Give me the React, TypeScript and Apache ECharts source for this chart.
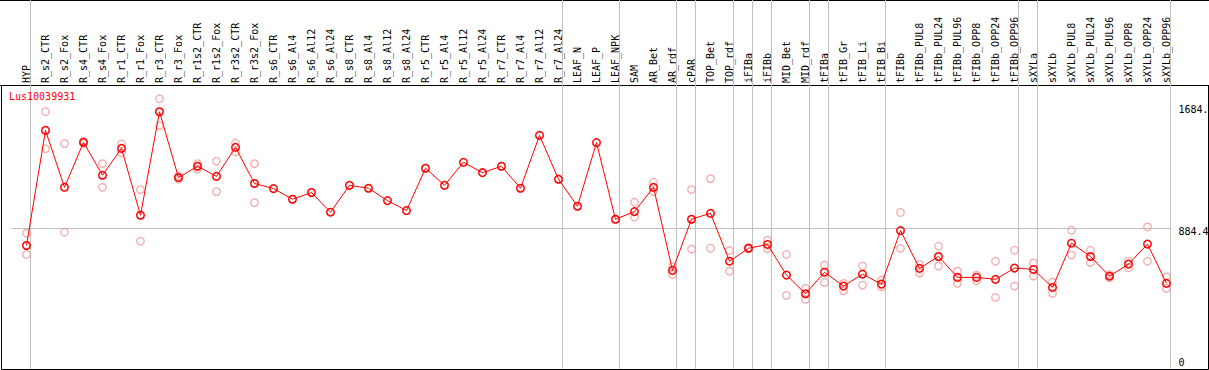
import React, { useEffect, useRef } from 'react';
import * as echarts from 'echarts';

const geneName = 'Lus10039931';

const categories = [
  'HYP', 'R_s2_CTR', 'R_s2_Fox', 'R_s4_CTR', 'R_s4_Fox', 'R_r1_CTR', 'R_r1_Fox', 'R_r3_CTR', 'R_r3_Fox',
  'R_r1s2_CTR', 'R_r1s2_Fox', 'R_r3s2_CTR', 'R_r3s2_Fox', 'R_s6_CTR', 'R_s6_Al4', 'R_s6_Al12', 'R_s6_Al24',
  'R_s8_CTR', 'R_s8_Al4', 'R_s8_Al12', 'R_s8_Al24', 'R_r5_CTR', 'R_r5_Al4', 'R_r5_Al12', 'R_r5_Al24',
  'R_r7_CTR', 'R_r7_Al4', 'R_r7_Al12', 'R_r7_Al24', 'LEAF_N', 'LEAF_P', 'LEAF_NPK', 'SAM', 'AR_Bet', 'AR_rdf',
  'cPAR', 'TOP_Bet', 'TOP_rdf', 'iFIBa', 'iFIBb', 'MID_Bet', 'MID_rdf', 'tFIBa', 'tFIB_Gr', 'tFIB_Li', 'tFIB_Bi',
  'tFIBb', 'tFIBb_PUL8', 'tFIBb_PUL24', 'tFIBb_PUL96', 'tFIBb_OPP8', 'tFIBb_OPP24', 'tFIBb_OPP96', 'sXYLa',
  'sXYLb', 'sXYLb_PUL8', 'sXYLb_PUL24', 'sXYLb_PUL96', 'sXYLb_OPP8', 'sXYLb_OPP24', 'sXYLb_OPP96',
];

const meanValues = [
  773, 1527, 1154, 1449, 1233, 1409, 971, 1649, 1218,
  1292, 1226, 1416, 1179, 1146, 1076, 1120, 991,
  1167, 1148, 1067, 1002, 1279, 1167, 1318, 1250,
  1292, 1148, 1494, 1207, 1030, 1447, 945, 995, 1154, 610,
  945, 984, 670, 755, 780, 579, 457, 598, 507, 585, 520,
  871, 623, 701, 564, 564, 551, 625, 616,
  498, 788, 701, 572, 651, 782, 525,
];

const replicateA = [
  853, 1649, 1440, 1455, 1309, 1438, 1139, 1734, 1229,
  1309, 1324, 1444, 1309, null, null, null, null,
  null, null, null, null, null, null, null, null,
  null, null, null, null, null, null, null, 1056, 1187, 633,
  1139, 1211, 740, 759, 808, 714, 492, 644, 525, 638, 546,
  989, 649, 768, 605, 579, 670, 742, 659,
  533, 873, 742, 582, 670, 895, 568,
];

const replicateB = [
  714, 1407, 860, 1442, 1154, 1379, 801, 1558, 1207,
  1272, 1126, 1385, 1054, null, null, null, null,
  null, null, null, null, null, null, null, null,
  null, null, null, null, null, null, null, 960, 1126, 583,
  749, 755, 605, 752, 751, 446, 420, 531, 476, 513, 502,
  753, 592, 638, 525, 542, 433, 507, 572,
  459, 710, 662, 562, 627, 670, 492,
];

// index of the last category in each group (-1 = left edge)
const groupEnds = [-1, 0, 28, 31, 34, 35, 37, 38, 39, 41, 42, 45, 52, 53, 60];

const yTickValues = [0, 884.4, 1684];
const yTickLabels = ['0', '884.4', '1684.'];
const refLineValue = 884.4;

const FONT = 'DejaVu Sans Mono';

export default function App() {
  const ref = useRef<HTMLDivElement>(null);

  useEffect(() => {
    if (!ref.current) return;
    const chart = echarts.init(ref.current, null, { renderer: 'svg' });

    const sepOffset = 4 / 19;
    const xMin = -1 + sepOffset;
    const xMax = categories.length - 1 + sepOffset;

    const meanData = meanValues.map((v, i) => [i, v]);
    const repData: number[][] = [];
    replicateA.forEach((v, i) => {
      if (v != null) repData.push([i, v]);
    });
    replicateB.forEach((v, i) => {
      if (v != null) repData.push([i, v]);
    });

    const option: any = {
      animation: false,
      backgroundColor: '#ffffff',
      title: {
        text: geneName,
        left: 9,
        top: 91,
        padding: 0,
        textStyle: { color: '#ff0000', fontSize: 10, fontFamily: FONT, fontWeight: 'normal' },
      },
      grid: { left: 11.5, width: 1159, top: 0, height: 369, outerBoundsMode: 'none', containLabel: false },
      xAxis: {
        type: 'value',
        position: 'top',
        offset: -86,
        min: xMin,
        max: xMax,
        axisLine: { show: false },
        axisTick: { show: false },
        splitLine: { show: false },
        axisLabel: {
          customValues: categories.map((_, i) => i),
          formatter: (v: number) => categories[Math.round(v)] ?? '',
          rotate: 90,
          margin: 3,
          color: '#000',
          fontSize: 10,
          fontFamily: FONT,
        },
      },
      yAxis: {
        type: 'value',
        position: 'right',
        min: -36,
        max: 2381,
        axisLine: { show: false },
        axisTick: { show: false },
        splitLine: { show: false },
        axisLabel: {
          customValues: yTickValues,
          formatter: (v: number) => {
            const idx = yTickValues.findIndex((t) => Math.abs(t - v) < 1e-6);
            const txt = idx >= 0 ? yTickLabels[idx] : '';
            return v === 0 ? `{z|${txt}}` : `{d|${txt}}`;
          },
          margin: 8,
          color: '#000',
          fontSize: 10,
          fontFamily: FONT,
          rich: {
            d: { padding: [6, 0, 0, 0], color: '#000', fontSize: 10, fontFamily: FONT },
            z: { padding: [0, 0, 2, 0], color: '#000', fontSize: 10, fontFamily: FONT },
          },
        },
      },
      series: [
        {
          type: 'scatter',
          data: repData,
          symbol: 'circle',
          symbolSize: 7.5,
          silent: true,
          z: 2,
          itemStyle: { color: 'rgba(0,0,0,0)', borderColor: '#f09696', borderWidth: 1.3 },
          markLine: {
            silent: true,
            symbol: 'none',
            z: 1,
            label: { show: false },
            emphasis: { disabled: true },
            lineStyle: { color: '#c0c0c0', width: 1, type: 'solid' },
            data: [
              ...groupEnds.map((e) => ({ xAxis: e + sepOffset })),
              { yAxis: refLineValue },
            ],
          },
        },
        {
          type: 'line',
          data: meanData,
          symbol: 'circle',
          symbolSize: 7.5,
          showAllSymbol: true,
          silent: true,
          z: 3,
          lineStyle: { color: '#ff0000', width: 1 },
          itemStyle: { color: 'rgba(0,0,0,0)', borderColor: '#ff0000', borderWidth: 1.5 },
        },
      ],
      graphic: [
        {
          type: 'line',
          silent: true,
          shape: { x1: 0, y1: 0.5, x2: 1209, y2: 0.5 },
          style: { stroke: '#000', lineWidth: 1 },
        },
        {
          type: 'line',
          silent: true,
          shape: { x1: 0, y1: 85.5, x2: 1209, y2: 85.5 },
          style: { stroke: '#000', lineWidth: 1 },
        },
        {
          type: 'rect',
          silent: true,
          shape: { x: 1.5, y: 85.5, width: 1207, height: 284 },
          style: { fill: 'none', stroke: '#000', lineWidth: 1 },
        },
      ],
    };

    chart.setOption(option);
    return () => chart.dispose();
  }, []);

  return (
    <div
      ref={ref}
      style={{ position: 'fixed', left: 0, top: 0, width: 1209, height: 370, background: '#fff' }}
    />
  );
}
